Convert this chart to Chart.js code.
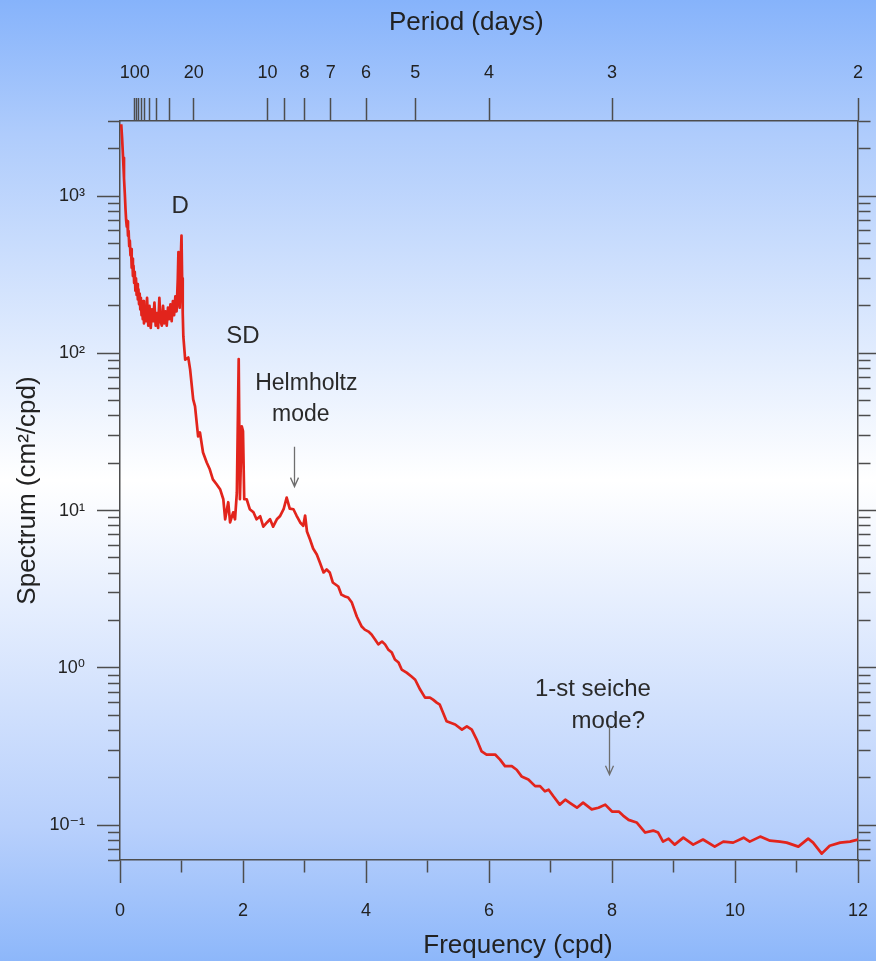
<!DOCTYPE html>
<html>
<head>
<meta charset="utf-8">
<script src="https://cdn.jsdelivr.net/npm/chart.js@4.4.0/dist/chart.umd.min.js"></script>
<style>
  html, body { margin: 0; padding: 0; background: #ffffff; }
  canvas { display: block; }
</style>
</head>
<body>
<canvas id="spectrumChart" width="876" height="961"></canvas>
<script>
// Sea-level spectrum: frequency (cycles per day) and spectral density (cm^2/cpd)
const frequency = [
  0.02, 0.035, 0.05, 0.065, 0.08, 0.09, 0.10, 0.11, 0.12, 0.13, 0.14, 0.15, 0.16, 0.17, 0.18, 0.19,
  0.20, 0.21, 0.22, 0.23, 0.24, 0.25, 0.26, 0.27, 0.28, 0.29, 0.30, 0.31, 0.32, 0.33, 0.34, 0.35,
  0.36, 0.37, 0.38, 0.39, 0.40, 0.42, 0.44, 0.46, 0.48, 0.50, 0.52, 0.54, 0.56, 0.58, 0.60, 0.62,
  0.64, 0.66, 0.68, 0.70, 0.72, 0.74, 0.76, 0.78, 0.80, 0.82, 0.84, 0.86, 0.88, 0.90, 0.92, 0.94,
  0.95, 0.96, 0.97, 0.98, 0.99, 1.00, 1.01, 1.02, 1.03, 1.06, 1.11, 1.14, 1.19, 1.22, 1.27, 1.30,
  1.35, 1.41, 1.46, 1.51, 1.57, 1.63, 1.68, 1.71, 1.73, 1.76, 1.79, 1.84, 1.87, 1.90, 1.93, 1.95,
  1.98, 2.00, 2.02, 2.06, 2.11, 2.17, 2.22, 2.28, 2.33, 2.39, 2.44, 2.49, 2.55, 2.60, 2.66, 2.71,
  2.76, 2.82, 2.87, 2.93, 2.98, 3.01, 3.04, 3.09, 3.14, 3.20, 3.25, 3.31, 3.36, 3.41, 3.46, 3.55,
  3.60, 3.66, 3.71, 3.77, 3.85, 3.93, 3.98, 4.04, 4.09, 4.15, 4.20, 4.26, 4.31, 4.36, 4.42, 4.47,
  4.53, 4.58, 4.66, 4.74, 4.80, 4.88, 4.96, 5.04, 5.09, 5.15, 5.20, 5.31, 5.45, 5.56, 5.64, 5.72,
  5.80, 5.88, 5.96, 6.10, 6.18, 6.26, 6.37, 6.45, 6.53, 6.64, 6.75, 6.83, 6.91, 6.97, 7.05, 7.15,
  7.24, 7.32, 7.43, 7.53, 7.67, 7.78, 7.89, 8.00, 8.11, 8.18, 8.27, 8.40, 8.54, 8.67, 8.75, 8.83,
  8.92, 9.02, 9.16, 9.32, 9.48, 9.67, 9.81, 9.97, 10.14, 10.24, 10.41, 10.57, 10.73, 10.84, 11.03, 11.19,
  11.27, 11.41, 11.54, 11.71, 11.87, 12.00
];
const spectrum = [
  2860, 2300, 1750, 1300, 1000, 820, 700, 640, 690, 560, 600, 480, 520, 420, 460, 350,
  400, 310, 360, 280, 330, 250, 300, 235, 275, 220, 255, 205, 240, 190, 225, 175,
  210, 165, 215, 155, 195, 160, 225, 150, 200, 145, 190, 160, 210, 150, 180, 145,
  225, 160, 150, 200, 155, 185, 150, 195, 165, 205, 160, 215, 175, 230, 185, 300,
  440, 210, 195, 260, 420, 560, 300, 180, 128, 91, 94, 79, 51, 46, 29.6, 31.4,
  23.4, 20.2, 18.3, 15.8, 14.7, 13.6, 11.8, 8.8, 9.75, 11.3, 8.4, 9.75, 8.8, 13.0, 92, 11.8,
  34.3, 32, 11.8, 11.8, 10.2, 9.75, 8.8, 9.2, 7.9, 8.4, 8.8, 7.9, 8.8, 9.2, 10.2, 12.1,
  10.3, 10.2, 9.3, 8.4, 8.0, 9.3, 7.36, 6.55, 5.74, 5.26, 4.68, 4.04, 4.22, 4.04, 3.49, 3.29,
  2.92, 2.84, 2.80, 2.60, 2.12, 1.83, 1.75, 1.70, 1.63, 1.51, 1.41, 1.47, 1.41, 1.31, 1.25, 1.13,
  1.08, 0.975, 0.933, 0.88, 0.84, 0.728, 0.647, 0.647, 0.628, 0.601, 0.583, 0.457, 0.436, 0.405, 0.425, 0.405,
  0.350, 0.294, 0.281, 0.281, 0.261, 0.237, 0.237, 0.225, 0.204, 0.195, 0.177, 0.177, 0.164, 0.168, 0.152, 0.135,
  0.145, 0.138, 0.129, 0.139, 0.126, 0.129, 0.135, 0.122, 0.122, 0.115, 0.108, 0.104, 0.0897, 0.0923, 0.0897, 0.0785,
  0.082, 0.0751, 0.0832, 0.0751, 0.081, 0.073, 0.0785, 0.0774, 0.0832, 0.0785, 0.0845, 0.0796, 0.0785, 0.0774, 0.073, 0.082,
  0.0774, 0.0659, 0.074, 0.0774, 0.0785, 0.081
];

// Bottom axis ticks (cpd); labelled every 2
const frequencyTicks = [0, 1, 2, 3, 4, 5, 6, 7, 8, 9, 10, 11, 12];
// Top axis: periods, placed at 24 / period on the frequency axis
const periodTicks  = [100, 90, 80, 70, 60, 50, 40, 30, 20, 10, 9, 8, 7, 6, 5, 4, 3, 2];
const periodLabels = ['100', '', '', '', '', '', '', '', '20', '10', '', '8', '7', '6', '5', '4', '3', '2'];
// Decade labels of the spectrum axis
const decadeLabels = { '-1': '10\u207B\u00B9', '0': '10\u2070', '1': '10\u00B9', '2': '10\u00B2', '3': '10\u00B3' };

const yMin = 0.06, yMax = 3000;

// Text notes and arrows in data units (frequency, spectrum)
const notes = [
  { text: 'D',            f: 0.98, v: 860,   size: 24 },
  { text: 'SD',           f: 2.00, v: 128,   size: 24 },
  { text: 'Helmholtz',    f: 3.03, v: 64,    size: 23 },
  { text: 'mode',         f: 2.94, v: 40.8,  size: 23 },
  { text: '1-st seiche',  f: 7.69, v: 0.728, size: 24 },
  { text: 'mode?',        f: 7.94, v: 0.455, size: 24 }
];
const arrows = [
  { f: 2.83, from: 25.5, to: 14.2 },
  { f: 7.95, from: 0.424, to: 0.209 }
];

const AXIS = '#4d4d4d';
const TEXT = '#222222';
const FONT = "'Liberation Sans', Arial, 'DejaVu Sans', sans-serif";
Chart.defaults.font.family = FONT;
Chart.defaults.color = TEXT;

function logTicks() {
  const out = [];
  for (let n = -2; n <= 3; n++) {
    for (let k = 1; k <= 9; k++) {
      const v = k * Math.pow(10, n);
      if (v >= yMin * 0.999 && v <= yMax * 1.001) out.push({ value: v });
    }
  }
  return out;
}
function isDecade(v) {
  const l = Math.log10(v);
  return Math.abs(l - Math.round(l)) < 1e-6;
}
// fixed axis sizes, no extra edge padding for end labels
function fitHorizontal(h) {
  return s => { s.height = h; s.paddingLeft = 0; s.paddingRight = 0; };
}
function fitVertical(w) {
  return s => { s.width = w; s.paddingTop = 0; s.paddingBottom = 0; };
}

const backgroundPlugin = {
  id: 'pageBackground',
  beforeDraw(chart) {
    const { ctx, width, height } = chart;
    const g = ctx.createLinearGradient(0, 0, 0, height);
    g.addColorStop(0, '#86b3fb');
    g.addColorStop(0.14, '#afccfc');
    g.addColorStop(0.5, '#ffffff');
    g.addColorStop(0.86, '#b8d0fc');
    g.addColorStop(1, '#8db7fa');
    ctx.save();
    ctx.fillStyle = g;
    ctx.fillRect(0, 0, width, height);
    ctx.restore();
  }
};

const textPlugin = {
  id: 'notesAndTitles',
  afterDatasetsDraw(chart) {
    const { ctx, chartArea } = chart;
    const xs = chart.scales.x, ys = chart.scales.y;
    ctx.save();
    // axis titles
    ctx.fillStyle = TEXT;
    ctx.textAlign = 'center';
    ctx.textBaseline = 'alphabetic';
    ctx.font = '26px ' + FONT;
    ctx.fillText('Period (days)', xs.getPixelForValue(5.63), chartArea.top - 91);
    ctx.fillText('Frequency (cpd)', xs.getPixelForValue(6.47), chartArea.bottom + 93);
    // notes
    ctx.textBaseline = 'middle';
    ctx.fillStyle = '#2a2a2a';
    notes.forEach(n => {
      ctx.font = n.size + 'px ' + FONT;
      ctx.fillText(n.text, xs.getPixelForValue(n.f), ys.getPixelForValue(n.v));
    });
    // arrows
    ctx.strokeStyle = '#6e6e6e';
    ctx.lineWidth = 1.3;
    arrows.forEach(a => {
      const x = Math.round(xs.getPixelForValue(a.f)) + 0.5;
      const y0 = ys.getPixelForValue(a.from), y1 = ys.getPixelForValue(a.to);
      ctx.beginPath();
      ctx.moveTo(x, y0);
      ctx.lineTo(x, y1);
      ctx.moveTo(x - 4, y1 - 9);
      ctx.lineTo(x, y1);
      ctx.lineTo(x + 4, y1 - 9);
      ctx.stroke();
    });
    ctx.restore();
  }
};

const minorLeft = [0, 11, 12, 40];   // draws only the inner 12px of a 23px tick (outer→inner)
const minorRight = [12, 40];         // inner→outer

new Chart(document.getElementById('spectrumChart'), {
  type: 'line',
  data: {
    datasets: [{
      data: frequency.map((f, i) => ({ x: f, y: spectrum[i] })),
      borderColor: '#e2241c',
      borderWidth: 2.7,
      pointRadius: 0,
      tension: 0,
      borderJoinStyle: 'round',
      xAxisID: 'x',
      yAxisID: 'y'
    }]
  },
  options: {
    responsive: false,
    animation: false,
    layout: { padding: 0 },
    plugins: { legend: { display: false }, tooltip: { enabled: false } },
    scales: {
      x: {
        type: 'linear', position: 'bottom', min: 0, max: 12,
        afterBuildTicks: s => { s.ticks = frequencyTicks.map(v => ({ value: v })); },
        afterFit: fitHorizontal(101),
        ticks: {
          autoSkip: false, maxRotation: 0, minRotation: 0,
          font: { size: 18 }, color: TEXT, padding: 17,
          callback: v => (v % 2 === 0 ? String(v) : '')
        },
        grid: {
          drawOnChartArea: false, tickLength: 23, tickColor: AXIS, tickWidth: 1.5,
          tickBorderDash: c => (c.tick && c.tick.value % 2 !== 0 ? minorRight : [])
        },
        border: { color: AXIS, width: 1.5 }
      },
      xTop: {
        type: 'linear', position: 'top', min: 0, max: 12,
        afterBuildTicks: s => { s.ticks = periodTicks.map(p => ({ value: 24 / p })); },
        afterFit: fitHorizontal(121),
        ticks: {
          autoSkip: false, maxRotation: 0, minRotation: 0,
          font: { size: 18 }, color: TEXT, padding: 14,
          callback: (v, i) => periodLabels[i]
        },
        grid: { drawOnChartArea: false, tickLength: 23, tickColor: AXIS, tickWidth: 1.5 },
        border: { color: AXIS, width: 1.5 }
      },
      y: {
        type: 'logarithmic', position: 'left', min: yMin, max: yMax,
        afterBuildTicks: s => { s.ticks = logTicks(); },
        afterFit: fitVertical(120),
        ticks: {
          autoSkip: false, font: { size: 18 }, color: TEXT, padding: 12,
          callback: v => (isDecade(v) ? decadeLabels[String(Math.round(Math.log10(v)))] : '')
        },
        grid: {
          drawOnChartArea: false, tickLength: 23, tickColor: AXIS, tickWidth: 1.5,
          tickBorderDash: c => (c.tick && !isDecade(c.tick.value) ? minorLeft : [])
        },
        border: { color: AXIS, width: 1.5 },
        title: {
          display: true, text: 'Spectrum (cm\u00B2/cpd)', color: TEXT,
          font: { size: 26 }, padding: { top: 12, bottom: 0 }
        }
      },
      yRight: {
        type: 'logarithmic', position: 'right', min: yMin, max: yMax,
        afterBuildTicks: s => { s.ticks = logTicks(); },
        afterFit: fitVertical(18),
        ticks: { autoSkip: false, font: { size: 2 }, padding: 0, callback: () => '' },
        grid: {
          drawOnChartArea: false, tickLength: 23, tickColor: AXIS, tickWidth: 1.5,
          tickBorderDash: c => (c.tick && !isDecade(c.tick.value) ? minorRight : [])
        },
        border: { color: AXIS, width: 1.5 }
      }
    }
  },
  plugins: [backgroundPlugin, textPlugin]
});
</script>
</body>
</html>
